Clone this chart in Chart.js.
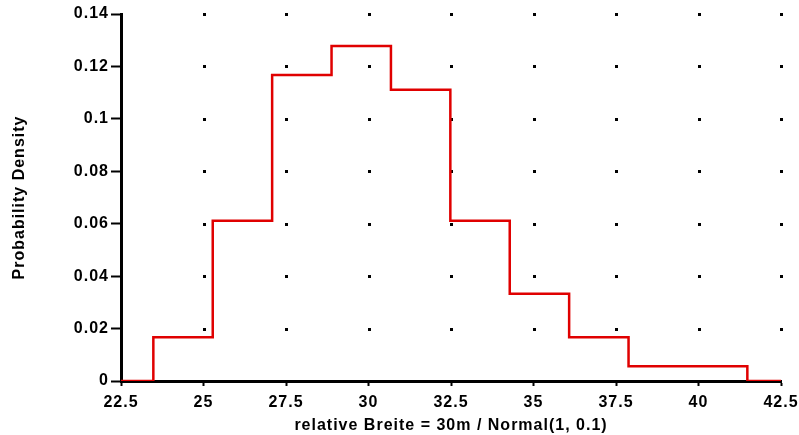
<!DOCTYPE html>
<html lang="en">
<head>
    <meta charset="UTF-8">
    <title>Probability Density</title>
    <script src="https://cdn.jsdelivr.net/npm/chart.js"></script>
    <style>
        html, body { margin: 0; padding: 0; background: #ffffff; }
        #wrap { width: 799px; height: 435px; }
    </style>
</head>
<body>
    <div id="wrap"><canvas id="histChart" width="799" height="435"></canvas></div>

    <script>
        // histogram bin edges (x) and densities
        const binEdges = [23.48, 25.28, 27.08, 28.88, 30.68, 32.48, 34.28, 36.08, 37.88, 39.68, 41.48];
        const densities = [0.0167, 0.0611, 0.1167, 0.1278, 0.1111, 0.0611, 0.0333, 0.0167, 0.0056, 0.0056];
        const xRange = [22.5, 42.5];
        const yRange = [0, 0.14];

        // step outline: baseline, one point per bin edge, baseline again
        const points = [{ x: xRange[0], y: 0 }];
        binEdges.forEach((e, i) => {
            points.push({ x: e, y: i < densities.length ? densities[i] : 0 });
        });
        points.push({ x: xRange[1], y: 0 });

        const font = { family: "'Liberation Sans', Arial, sans-serif", size: 16, weight: 'bold' };

        // the reference text is set a bit wider than plain Arial
        const spacing = {
            id: 'spacing',
            beforeUpdate(chart) { chart.ctx.letterSpacing = '1px'; },
            beforeDraw(chart) { chart.ctx.letterSpacing = '1px'; }
        };

        // dots where the (hidden) grid lines would cross
        const dotGrid = {
            id: 'dotGrid',
            beforeDatasetsDraw(chart) {
                const ctx = chart.ctx;
                const xs = chart.scales.x, ys = chart.scales.y;
                ctx.save();
                ctx.fillStyle = '#000000';
                xs.ticks.forEach(xt => {
                    if (xt.value === xRange[0]) return;
                    const px = Math.round(xs.getPixelForValue(xt.value));
                    ys.ticks.forEach(yt => {
                        if (yt.value === yRange[0]) return;
                        const py = Math.round(ys.getPixelForValue(yt.value));
                        ctx.fillRect(px - 1, py - 1, 3, 3);
                    });
                });
                ctx.restore();
            }
        };

        // keep the plot box where the reference has it
        const fixArea = {
            id: 'fixArea',
            afterLayout(chart) {
                const xs = chart.scales.x;
                const right = 781;
                xs.right = right;
                xs.width = right - xs.left;
                chart.chartArea.right = right;
                chart.chartArea.width = right - chart.chartArea.left;
                xs.configure();
            }
        };

        new Chart(document.getElementById('histChart').getContext('2d'), {
            type: 'line',
            data: {
                datasets: [{
                    data: points,
                    borderColor: '#e00000',
                    borderWidth: 2.5,
                    stepped: 'before',
                    pointRadius: 0,
                    fill: false
                }]
            },
            options: {
                responsive: false,
                animation: false,
                layout: { padding: { top: 14, right: 18, left: 0, bottom: 0 } },
                plugins: { legend: { display: false }, tooltip: { enabled: false } },
                scales: {
                    x: {
                        type: 'linear',
                        min: xRange[0],
                        max: xRange[1],
                        ticks: {
                            stepSize: 2.5,
                            color: '#000000',
                            font: font,
                            padding: 7,
                            maxRotation: 0,
                            callback: v => String(v)
                        },
                        grid: { drawOnChartArea: false, drawTicks: true, tickLength: 5, tickWidth: 2, tickColor: '#000000' },
                        border: { display: true, color: '#000000', width: 3 },
                        title: { display: true, text: 'relative Breite = 30m / Normal(1, 0.1)', color: '#000000', font: font, padding: { top: 0, bottom: 0 } },
                        afterFit(scale) { scale.height = 54; }
                    },
                    y: {
                        min: yRange[0],
                        max: yRange[1],
                        ticks: {
                            stepSize: 0.02,
                            color: '#000000',
                            font: font,
                            padding: 2,
                            callback: v => String(Number(v.toFixed(2)))
                        },
                        grid: { drawOnChartArea: false, drawTicks: true, tickLength: 10, tickWidth: 2, tickColor: '#000000' },
                        border: { display: true, color: '#000000', width: 3 },
                        title: { display: true, text: 'Probability Density', color: '#000000', font: font, padding: { top: 10, bottom: 0 } },
                        afterFit(scale) { scale.width = 121; }
                    }
                }
            },
            plugins: [spacing, fixArea, dotGrid]
        });
    </script>
</body>
</html>
